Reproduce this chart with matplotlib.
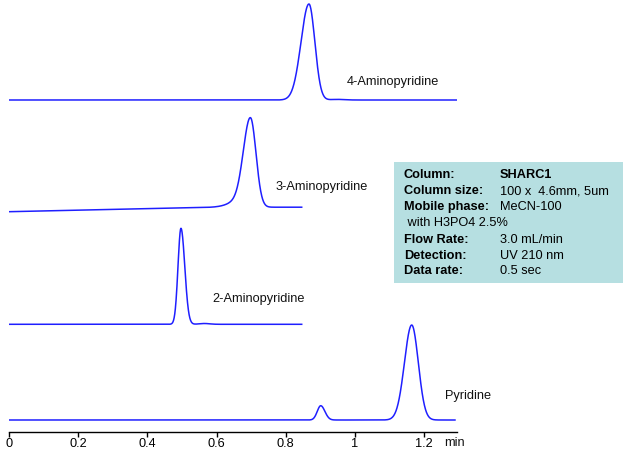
#!/usr/bin/env python3
"""SHARC1 separation of pyridine and aminopyridines - stacked chromatograms."""

import matplotlib

matplotlib.use("Agg")
import matplotlib.pyplot as plt
import numpy as np
from matplotlib.patches import Rectangle

W, H = 627, 451

# ---- data (time in min, signal in arbitrary units) ----
TRACE_NAMES = ["4-Aminopyridine", "3-Aminopyridine", "2-Aminopyridine", "Pyridine"]
TRACE_END = [1.294, 0.846, 0.846, 1.289]          # last time point of each run
BASELINE_START = [332.0, 220.3, 107.7, 12.0]      # stacking offset at t = 0
BASELINE_DRIFT = [0.0, 4.5, 0.0, 0.0]             # rise over first 0.6 min

# peak tables: retention time, height, left sigma, right sigma
PEAK_RT = [[0.867, 0.95], [0.665, 0.698], [0.497, 0.565], [0.901, 1.164]]
PEAK_HEIGHT = [[96.0, 0.6], [6.0, 88.0], [96.0, 0.8], [14.3, 95.0]]
PEAK_SIG_L = [[0.023, 0.02], [0.03, 0.020], [0.0085, 0.015], [0.010, 0.021]]
PEAK_SIG_R = [[0.017, 0.02], [0.02, 0.016], [0.011, 0.015], [0.012, 0.019]]

TICKS = [0, 0.2, 0.4, 0.6, 0.8, 1, 1.2]
TICK_LABELS = ["0", "0.2", "0.4", "0.6", "0.8", "1", "1.2"]

INFO_LABELS = ["Column:", "Column size:", "Mobile phase:", "", "Flow Rate:",
               "Detection:", "Data rate:"]
INFO_VALUES = ["SHARC1", "100 x  4.6mm, 5um", "MeCN-100", " with H3PO4 2.5%",
               "3.0 mL/min", "UV 210 nm", "0.5 sec"]

# ---- layout (pixels in the 627x451 image) ----
LABEL_POS = [(346.7, 81.7), (276, 186.7), (212, 299), (445, 396)]
INFO_Y = [175, 191.5, 207, 222.5, 240, 256, 271.5]
LINE_COLOR = "#1f1fff"
FS = 9.2


def fx(x):
    return x / W


def fy(y):
    return 1 - y / H


def trace(i, t):
    drift = BASELINE_DRIFT[i] * np.clip(t / 0.6, 0, 1)
    y = BASELINE_START[i] + drift
    for rt, h, sl, sr in zip(PEAK_RT[i], PEAK_HEIGHT[i], PEAK_SIG_L[i], PEAK_SIG_R[i]):
        sig = np.where(t < rt, sl, sr)
        y = y + h * np.exp(-0.5 * ((t - rt) / sig) ** 2)
    return y


plt.rcParams["font.family"] = ["Liberation Sans", "DejaVu Sans"]

fig = plt.figure(figsize=(W / 100, H / 100), dpi=100)
ax = fig.add_axes([fx(9), fy(432), fx(456.7) - fx(9), fy(0) - fy(432)])
ax.set_xlim(0, 1.294)
ax.set_ylim(0, 432)

for i, name in enumerate(TRACE_NAMES):
    t = np.linspace(0, TRACE_END[i], 2000)
    ax.plot(t, trace(i, t), color=LINE_COLOR, lw=1.1)
    lx, ly = LABEL_POS[i]
    fig.text(fx(lx), fy(ly), name, fontsize=FS, ha="left", va="center", color="#111111")

for side in ("top", "left", "right"):
    ax.spines[side].set_visible(False)
ax.spines["bottom"].set_linewidth(1.0)
ax.set_yticks([])
ax.set_xticks(TICKS)
ax.set_xticklabels(TICK_LABELS)
ax.tick_params(axis="x", direction="out", length=3.5, width=1, pad=1.0, labelsize=FS)
fig.text(fx(444), fy(442.5), "min", fontsize=FS, ha="left", va="center", color="#111111")

# info box
fig.add_artist(Rectangle((fx(394), fy(283.3)), fx(622.7) - fx(394), fy(162.3) - fy(283.3),
                         transform=fig.transFigure, facecolor="#b6dfe1", edgecolor="none"))
for lab, val, y in zip(INFO_LABELS, INFO_VALUES, INFO_Y):
    if lab:
        fig.text(fx(404), fy(y), lab, fontsize=FS, fontweight="bold", va="center")
        fig.text(fx(500), fy(y), val, fontsize=FS, va="center",
                 fontweight="bold" if val == "SHARC1" else "normal")
    else:
        fig.text(fx(404), fy(y), val, fontsize=FS, va="center")

fig.savefig("out.png", dpi=100)
